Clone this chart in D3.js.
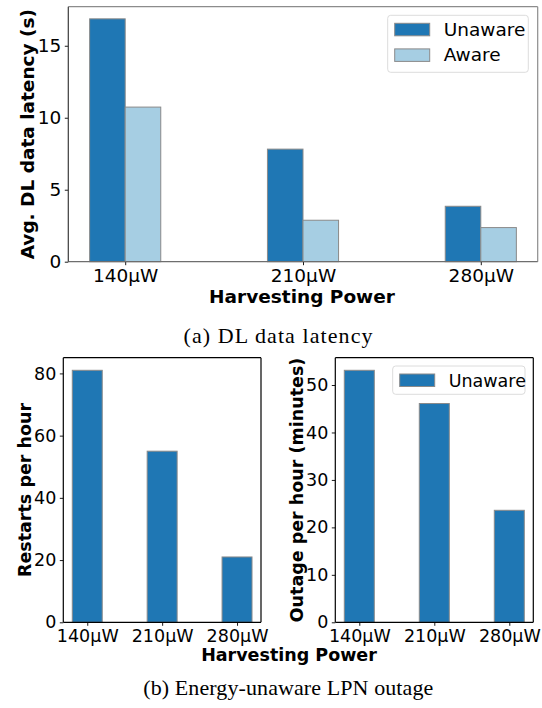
<!DOCTYPE html>
<html>
<head>
<meta charset="utf-8">
<script src="https://cdn.jsdelivr.net/npm/d3@7"></script>
<style>
  html, body { margin: 0; padding: 0; background: #fff; }
  svg { display: block; }
</style>
</head>
<body>
<svg id="fig" width="542" height="708"></svg>
<script>
// Harvesting power levels (x categories)
const powerLabels = ["140μW", "210μW", "280μW"];

// (a) Average downlink data latency, seconds
const latencyUnaware = [16.87, 7.82, 3.85];
const latencyAware = [10.74, 2.88, 2.37];
const latencyTicks = [0, 5, 10, 15];

// (b) Energy-unaware LPN outage
const restartsPerHour = [81, 55, 21];
const restartTicks = [0, 20, 40, 60, 80];
const outageMinutes = [53.1, 46.1, 23.6];
const outageTicks = [0, 10, 20, 30, 40, 50];

const seriesNames = ["Unaware", "Aware"];
const colUnaware = "#1f77b4";
const colAware = "#a6cee3";
const edgeCol = "#8a8a8a";
const FONT = "DejaVu Sans, sans-serif";
const SERIF = "Liberation Serif, Times New Roman, serif";

const svg = d3.select("#fig");

// Draws one bar panel. series: [{name, values, color, offset}]
function panel(opt) {
  const g = svg.append("g");
  const idx = powerLabels.map((d, i) => i);
  // matplotlib-like limits: bar extents + 5% margin
  const lo = d3.min(opt.series, s => s.offset) - opt.barW / 2;
  const hi = powerLabels.length - 1 + d3.max(opt.series, s => s.offset) + opt.barW / 2;
  const pad = (hi - lo) * 0.05;
  const x = d3.scaleLinear().domain([lo - pad, hi + pad]).range([opt.x0, opt.x1]);
  const ymax = d3.max(opt.series, s => d3.max(s.values)) * 1.05;
  const y = d3.scaleLinear().domain([0, ymax]).range([opt.y1, opt.y0]);

  opt.series.forEach(s => {
    g.append("g").selectAll("rect").data(s.values).join("rect")
      .attr("x", (d, i) => x(i + s.offset - opt.barW / 2))
      .attr("width", x(opt.barW) - x(0))
      .attr("y", d => y(d))
      .attr("height", d => y(0) - y(d))
      .attr("fill", s.color)
      .attr("stroke", edgeCol)
      .attr("stroke-width", 1);
  });

  // axes
  const yAxis = d3.axisLeft(y).tickValues(opt.yTicks).tickSize(3.5).tickPadding(3.5)
    .tickFormat(d3.format("d"));
  const xAxis = d3.axisBottom(x).tickValues(idx).tickSize(3.5).tickPadding(3.5)
    .tickFormat(i => powerLabels[i]);
  const ya = g.append("g").attr("transform", `translate(${opt.x0},0)`).call(yAxis);
  const xa = g.append("g").attr("transform", `translate(0,${opt.y1})`).call(xAxis);
  [ya, xa].forEach(a => {
    a.select(".domain").remove();
    a.selectAll("text").attr("font-family", FONT).attr("font-size", opt.fs).attr("fill", "#000");
    a.selectAll("line").attr("stroke", "#000").attr("stroke-width", 0.9);
  });

  // frame
  const sp = opt.spine;
  g.append("line").attr("x1", opt.x0).attr("x2", opt.x1).attr("y1", opt.y0).attr("y2", opt.y0)
    .attr("stroke", sp.top).attr("stroke-width", 1.2);
  g.append("line").attr("x1", opt.x1).attr("x2", opt.x1).attr("y1", opt.y0).attr("y2", opt.y1)
    .attr("stroke", sp.right).attr("stroke-width", 1.2);
  g.append("line").attr("x1", opt.x0).attr("x2", opt.x1).attr("y1", opt.y1).attr("y2", opt.y1)
    .attr("stroke", sp.bottom).attr("stroke-width", 1.2);
  g.append("line").attr("x1", opt.x0).attr("x2", opt.x0).attr("y1", opt.y0).attr("y2", opt.y1)
    .attr("stroke", sp.left).attr("stroke-width", 1.2);

  // y label
  g.append("text")
    .attr("transform", `translate(${opt.ylabX},${(opt.y0 + opt.y1) / 2}) rotate(-90)`)
    .attr("text-anchor", "middle").attr("dominant-baseline", "central")
    .attr("font-family", FONT).attr("font-weight", "bold").attr("font-size", opt.fs)
    .text(opt.ylabel);

  // legend
  if (opt.legend) {
    const L = opt.legend;
    g.append("rect").attr("x", L.x).attr("y", L.y).attr("width", L.w).attr("height", L.h)
      .attr("rx", 3).attr("fill", "#fff").attr("fill-opacity", 0.8)
      .attr("stroke", "#dcdcdc").attr("stroke-width", 1);
    L.items.forEach((s, i) => {
      const yy = L.y + 8 + i * L.step;
      g.append("rect").attr("x", L.x + 7).attr("y", yy).attr("width", 35).attr("height", 12.5)
        .attr("fill", s.color).attr("stroke", edgeCol).attr("stroke-width", 1);
      g.append("text").attr("x", L.x + 56).attr("y", yy + 12.5)
        .attr("font-family", FONT).attr("font-size", opt.fs).text(s.name);
    });
  }
  return { x, y };
}

// (a) latency, grouped bars
const seriesA = [
  { name: seriesNames[0], values: latencyUnaware, color: colUnaware, offset: -0.1 },
  { name: seriesNames[1], values: latencyAware, color: colAware, offset: 0.1 }
];
panel({
  x0: 68.3, x1: 537.7, y0: 6.7, y1: 261.7, barW: 0.2, fs: 18.5,
  series: seriesA, yTicks: latencyTicks,
  ylabel: "Avg. DL data latency (s)", ylabX: 27,
  spine: { top: "#8c8c8c", right: "#8c8c8c", bottom: "#6e6e6e", left: "#3a3a3a" },
  legend: { x: 387.7, y: 15.3, w: 140.6, h: 57, step: 25.6, items: seriesA }
});
svg.append("text").attr("x", (207 + 397) / 2).attr("y", 303)
  .attr("text-anchor", "middle").attr("font-family", FONT).attr("font-weight", "bold")
  .attr("font-size", 18.5).text("Harvesting Power");
svg.append("text").attr("x", 278).attr("y", 342.7)
  .attr("text-anchor", "middle").attr("font-family", SERIF)
  .attr("font-size", 22).attr("textLength", 189).attr("lengthAdjust", "spacing")
  .text("(a) DL data latency");

// (b) left: restarts per hour
panel({
  x0: 63.3, x1: 261, y0: 357.7, y1: 622.3, barW: 0.4, fs: 17.5,
  series: [{ name: seriesNames[0], values: restartsPerHour, color: colUnaware, offset: 0 }],
  yTicks: restartTicks, ylabel: "Restarts per hour", ylabX: 25,
  spine: { top: "#000", right: "#000", bottom: "#000", left: "#000" }
});

// (b) right: outage minutes per hour
const seriesB = [{ name: seriesNames[0], values: outageMinutes, color: colUnaware, offset: 0 }];
panel({
  x0: 335.3, x1: 533.3, y0: 357.7, y1: 622.3, barW: 0.4, fs: 17.5,
  series: seriesB, yTicks: outageTicks, ylabel: "Outage per hour (minutes)", ylabX: 297,
  spine: { top: "#000", right: "#000", bottom: "#000", left: "#000" },
  legend: { x: 392.7, y: 366, w: 132.3, h: 28.3, step: 0, items: seriesB }
});
svg.append("text").attr("x", 289).attr("y", 661)
  .attr("text-anchor", "middle").attr("font-family", FONT).attr("font-weight", "bold")
  .attr("font-size", 17.5).text("Harvesting Power");
svg.append("text").attr("x", 288.3).attr("y", 694.5)
  .attr("text-anchor", "middle").attr("font-family", SERIF)
  .attr("font-size", 22).attr("textLength", 290).attr("lengthAdjust", "spacing")
  .text("(b) Energy-unaware LPN outage");
</script>
</body>
</html>
